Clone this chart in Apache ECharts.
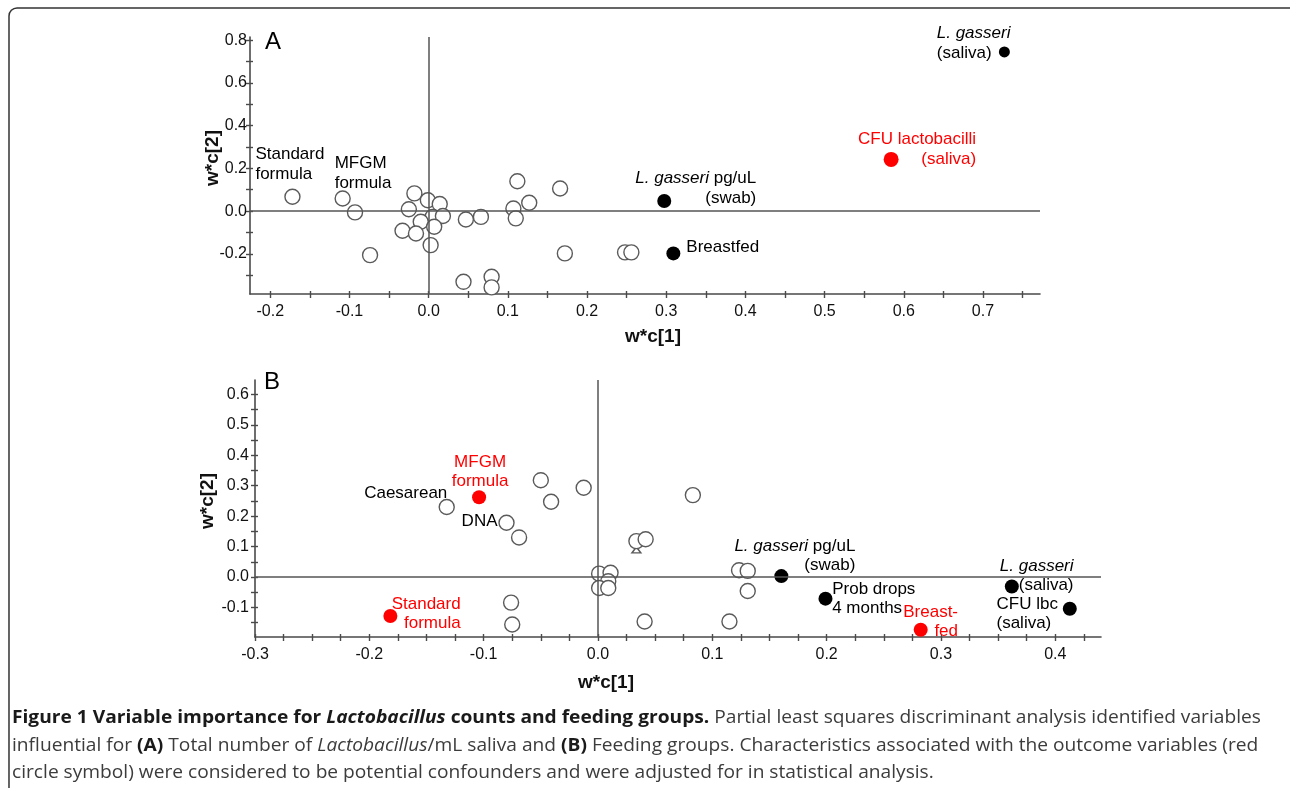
<!DOCTYPE html>
<html><head><meta charset="utf-8">
<script src="https://cdn.jsdelivr.net/npm/echarts@6/dist/echarts.min.js"></script>
<style>html,body{margin:0;padding:0;background:#fff}#c{width:1290px;height:788px}</style>
</head><body><div id="c"></div>
<script>
// ---------------- DATA ----------------
// Panel A : Lactobacillus counts
const aXLabels = [-0.2,-0.1,0.0,0.1,0.2,0.3,0.4,0.5,0.6,0.7];
const aXTicks  = [-0.2,-0.15,-0.1,-0.05,0,0.05,0.1,0.15,0.2,0.25,0.3,0.35,0.4,0.45,0.5,0.55,0.6,0.65,0.7,0.75];
const aYLabels = [-0.2,0.0,0.2,0.4,0.6,0.8];
const aYTicks  = [-0.3,-0.2,-0.1,0,0.1,0.2,0.3,0.4,0.5,0.6,0.7,0.8];
const aOpen = [
  [-0.172,0.067],[-0.1086,0.059],[-0.093,-0.006],[-0.074,-0.206],[-0.018,0.083],[-0.025,0.009],
  [-0.001,0.051],[0.014,0.033],[0.005,-0.027],[0.018,-0.023],[-0.010,-0.050],[0.007,-0.073],
  [-0.033,-0.092],[-0.016,-0.105],[0.0025,-0.159],[0.047,-0.039],[0.066,-0.027],[0.044,-0.331],
  [0.0795,-0.307],[0.0795,-0.357],[0.112,0.140],[0.107,0.012],[0.110,-0.034],[0.127,0.039],
  [0.166,0.106],[0.172,-0.198],[0.248,-0.193],[0.256,-0.193]
];
const aOpenNames = ['A:Standard formula','A:MFGM formula'];
const aFilled = [
  {name:'A:L. gasseri pg/uL (swab)', value:[0.2975,0.047]},
  {name:'A:Breastfed', value:[0.309,-0.198]},
  {name:'A:L. gasseri (saliva)', value:[0.727,0.745]}
];
const aRed = [
  {name:'A:CFU lactobacilli (saliva)', value:[0.584,0.242]}
];

// Panel B : Feeding groups
const bXLabels = [-0.3,-0.2,-0.1,0.0,0.1,0.2,0.3,0.4];
const bXTicks  = [-0.3,-0.275,-0.25,-0.225,-0.2,-0.175,-0.15,-0.125,-0.1,-0.075,-0.05,-0.025,0,
                  0.025,0.05,0.075,0.1,0.125,0.15,0.175,0.2,0.225,0.25,0.275,0.3,0.325,0.35,0.375,0.4,0.425];
const bYLabels = [-0.1,0.0,0.1,0.2,0.3,0.4,0.5,0.6];
const bYTicks  = [-0.15,-0.1,-0.05,0,0.05,0.1,0.15,0.2,0.25,0.3,0.35,0.4,0.45,0.5,0.55,0.6];
const bOpen = [
  [-0.1323,0.230],[-0.080,0.178],[-0.069,0.130],[-0.050,0.318],[-0.041,0.247],[-0.0125,0.293],
  [-0.076,-0.084],[-0.075,-0.156],[0.001,0.011],[0.011,0.014],[0.009,-0.014],[0.001,-0.036],
  [0.009,-0.036],[0.083,0.269],[0.0336,0.118],[0.0417,0.124],[0.1234,0.022],[0.131,0.020],
  [0.131,-0.046],[0.0408,-0.146],[0.115,-0.146]
];
const bOpenNames = ['B:Caesarean','B:DNA'];
const bTriangles = [[0.0336,0.089]];
const bFilled = [
  {name:'B:L. gasseri pg/uL (swab)', value:[0.1604,0.003]},
  {name:'B:Prob drops 4 months', value:[0.199,-0.071]},
  {name:'B:L. gasseri (saliva)', value:[0.362,-0.031]},
  {name:'B:CFU lbc (saliva)', value:[0.4127,-0.104]}
];
const bRed = [
  {name:'B:MFGM formula', value:[-0.104,0.262]},
  {name:'B:Standard formula', value:[-0.1816,-0.128]},
  {name:'B:Breast-fed', value:[0.2823,-0.173]}
];

// label texts
const texts = {
  'A:Standard formula':'{n|Standard}\n{n|formula}',
  'A:MFGM formula':'{n|MFGM}\n{n|formula}',
  'A:L. gasseri pg/uL (swab)':'{i|L. gasseri}{n| pg/uL}\n{n|(swab)}',
  'A:Breastfed':'{n|Breastfed}',
  'A:CFU lactobacilli (saliva)':'{n|CFU lactobacilli}\n{n|(saliva)}',
  'A:L. gasseri (saliva)':'{i|L. gasseri}\n{n|(saliva)}',
  'B:Caesarean':'{n|Caesarean}',
  'B:DNA':'{n|DNA}',
  'B:MFGM formula':'{n|MFGM}\n{n|formula}',
  'B:Standard formula':'{n|Standard}\n{n|formula}',
  'B:L. gasseri pg/uL (swab)':'{i|L. gasseri}{n| pg/uL}\n{n|(swab)}',
  'B:Prob drops 4 months':'{n|Prob drops}\n{n|4 months}',
  'B:Breast-fed':'{n|Breast-}\n{n|fed}',
  'B:L. gasseri (saliva)':'{i|L. gasseri}\n{n|(saliva)}',
  'B:CFU lbc (saliva)':'{n|CFU lbc}\n{n|(saliva)}'
};
const captionLines = [
  '{b|Figure 1 Variable importance for }{bi|Lactobacillus}{b| counts and feeding groups.}{n| Partial least squares discriminant analysis identified variables}',
  '{n|influential for }{b|(A)}{n| Total number of }{ni|Lactobacillus}{n|/mL saliva and }{b|(B)}{n| Feeding groups. Characteristics associated with the outcome variables (red}',
  '{n|circle symbol) were considered to be potential confounders and were adjusted for in statistical analysis.}'
];

// ---------------- STYLE / LAYOUT ----------------
const F = "'Liberation Sans', Arial, Helvetica, sans-serif";
const CF = "'Open Sans', 'Noto Sans', sans-serif";
const LFS = 17;
const layout = {
  'A:Standard formula':{off:[-37,-32],align:'left'},
  'A:MFGM formula':{off:[-8,-25],align:'left'},
  'A:L. gasseri pg/uL (swab)':{off:[92,-13],align:'right'},
  'A:Breastfed':{off:[13,-6],align:'left'},
  'A:CFU lactobacilli (saliva)':{off:[85,-10.5],align:'right'},
  'A:L. gasseri (saliva)':{off:[-67.6,-8.4],align:'left'},
  'B:Caesarean':{off:[0.6,-14],align:'right'},
  'B:DNA':{off:[-9,-1],align:'right'},
  'B:MFGM formula':{off:[1,-25],align:'center',lh:19},
  'B:Standard formula':{off:[70.3,-2.4],align:'right',lh:19},
  'B:L. gasseri pg/uL (swab)':{off:[74,-20.5],align:'right',lh:19},
  'B:Prob drops 4 months':{off:[6.7,0.5],align:'left',lh:19},
  'B:Breast-fed':{off:[37.3,-7.8],align:'right',lh:19},
  'B:L. gasseri (saliva)':{off:[61.7,-10.5],align:'right',lh:19},
  'B:CFU lbc (saliva)':{off:[-73.3,5.5],align:'left',lh:19}
};
const AX = '#4a4a4a';

function mkLabel(key, color){
  const L = layout[key]; const lh = L.lh || 20;
  const base = {color, fontFamily:F, fontSize:LFS, lineHeight:lh};
  return {show:true, position:'inside', offset:L.off, align:L.align, verticalAlign:'middle',
    formatter:texts[key], color, fontFamily:F, fontSize:LFS, lineHeight:lh,
    rich:{n:Object.assign({},base), i:Object.assign({fontStyle:'italic'},base)}};
}
function named(list, color){
  return list.map(d => ({name:d.name, value:d.value, label:mkLabel(d.name, color)}));
}
function openData(list, names){
  return list.map((v,i) => names[i] ? {name:names[i], value:v, label:mkLabel(names[i], '#000')} : {value:v});
}
const fmt = v => (Math.abs(v) < 1e-9 ? 0 : v).toFixed(1);

function axisPair(dim, grid, min, max, labels, ticks, margin, name, nameGap, namePad){
  const pos = dim === 'x' ? 'bottom' : 'left';
  const main = {type:'value', gridIndex:grid, min, max, position:pos, offset:0,
    axisLine:{show:true, onZero:false, lineStyle:{color:AX, width:1.6}},
    axisTick:{show:true, inside:false, length:4, customValues:ticks, lineStyle:{color:AX, width:1.4}},
    axisLabel:{show:true, margin, customValues:labels, formatter:fmt, color:'#111', fontFamily:F, fontSize:16},
    splitLine:{show:false},
    name, nameLocation:'middle', nameGap, nameMoveOverlap:false,
    nameTextStyle:{fontFamily:F, fontSize:19, fontWeight:'bold', color:'#111', padding:namePad}
  };
  const inner = {type:'value', gridIndex:grid, min, max, position:pos, offset:0,
    axisLine:{show:false, onZero:false},
    axisTick:{show:true, inside:true, length:3, customValues:ticks, lineStyle:{color:AX, width:1.4}},
    axisLabel:{show:false}, splitLine:{show:false}};
  return [main, inner];
}

const xA = axisPair('x',0,-0.2256,0.772,aXLabels,aXTicks,10,'w*c[1]',33,[0,0,0,16]);
const yA = axisPair('y',0,-0.388,0.815,aYLabels,aYTicks,3,'w*c[2]',28,[0,0,0,15]);
const xB = axisPair('x',1,-0.3,0.44,bXLabels,bXTicks,10,'w*c[1]',36,[0,144,0,0]);
const yB = axisPair('y',1,-0.197,0.647,bYLabels,bYTicks,6,'w*c[2]',38,[0,0,0,15]);

const zeroLines = {silent:true, symbol:['none','none'], label:{show:false}, animation:false,
  lineStyle:{color:'#555', width:1.5, type:'solid'}, data:[{xAxis:0},{yAxis:0}]};
const openStyle = {color:'#fff', borderColor:'#5a5a5a', borderWidth:1.4, opacity:1};

const option = {
  backgroundColor:'#fff',
  animation:false,
  grid:[
    {left:250, top:37, width:790, height:257},
    {left:255, top:380, width:846, height:257}
  ],
  xAxis:[xA[0], xA[1], xB[0], xB[1]],
  yAxis:[yA[0], yA[1], yB[0], yB[1]],
  series:[
    {type:'scatter', xAxisIndex:0, yAxisIndex:0, data:[], z:1, markLine:zeroLines},
    {type:'scatter', xAxisIndex:0, yAxisIndex:0, z:3, symbolSize:15, itemStyle:openStyle, data:openData(aOpen, aOpenNames)},
    {type:'scatter', xAxisIndex:0, yAxisIndex:0, z:3, symbolSize:(v,p)=> p.name==='A:L. gasseri (saliva)'?11:14, itemStyle:{color:'#000', opacity:1}, data:named(aFilled,'#000')},
    {type:'scatter', xAxisIndex:0, yAxisIndex:0, z:3, symbolSize:15, itemStyle:{color:'#ff0000', opacity:1}, data:named(aRed,'#ff0000')},
    {type:'scatter', xAxisIndex:2, yAxisIndex:2, data:[], z:1, markLine:zeroLines},
    {type:'scatter', xAxisIndex:2, yAxisIndex:2, z:2, symbol:'triangle', symbolSize:[9,6], itemStyle:openStyle, data:bTriangles},
    {type:'scatter', xAxisIndex:2, yAxisIndex:2, z:3, symbolSize:15, itemStyle:openStyle, data:openData(bOpen, bOpenNames)},
    {type:'scatter', xAxisIndex:2, yAxisIndex:2, z:3, symbolSize:14, itemStyle:{color:'#000', opacity:1}, data:named(bFilled,'#000')},
    {type:'scatter', xAxisIndex:2, yAxisIndex:2, z:3, symbolSize:14, itemStyle:{color:'#ff0000', opacity:1}, data:named(bRed,'#ff0000')}
  ],
  graphic:[
    {type:'rect', shape:{x:9, y:8, width:1300, height:800, r:8}, style:{fill:'none', stroke:'#333', lineWidth:1.5}, silent:true},
    {type:'text', x:265, y:42, style:{text:'A', font:'24px '+F, fill:'#000', verticalAlign:'middle', textVerticalAlign:'middle'}},
    {type:'text', x:264, y:382, style:{text:'B', font:'24px '+F, fill:'#000', verticalAlign:'middle', textVerticalAlign:'middle'}}
  ].concat(captionLines.map((t,i) => ({
    type:'text', x:12, y:718 + i*27.5, scaleX:1.065,
    style:{text:t, verticalAlign:'middle', textVerticalAlign:'middle',
      rich:{
        b:{fontFamily:CF, fontSize:18, fontWeight:'bold', fill:'#1a1a1a', color:'#1a1a1a'},
        bi:{fontFamily:CF, fontSize:18, fontWeight:'bold', fontStyle:'italic', fill:'#1a1a1a', color:'#1a1a1a'},
        n:{fontFamily:CF, fontSize:18, fill:'#3c3c3c', color:'#3c3c3c'},
        ni:{fontFamily:CF, fontSize:18, fontStyle:'italic', fill:'#3c3c3c', color:'#3c3c3c'}
      }}
  })))
};
const chart = echarts.init(document.getElementById('c'), null, {renderer:'canvas', width:1290, height:788});
chart.setOption(option);
</script>
</body></html>
